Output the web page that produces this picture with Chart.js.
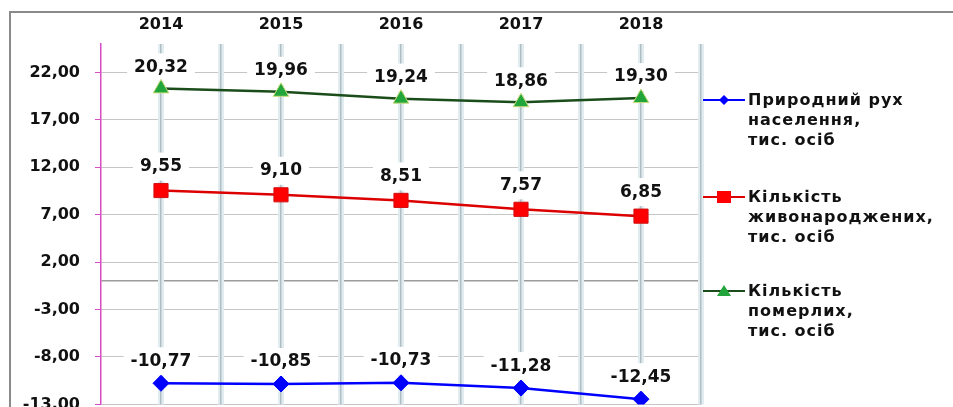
<!DOCTYPE html>
<html>
<head>
<meta charset="utf-8">
<script src="https://cdn.jsdelivr.net/npm/chart.js@4"></script>
<style>
  html, body { margin: 0; padding: 0; background: #fff; overflow: hidden; }
  #wrap { position: relative; width: 953px; height: 407px; overflow: hidden; }
  #frame { position: absolute; left: 9px; top: 11px; width: 1000px; height: 500px;
           border-left: 2px solid #8a8a8a; border-top: 2px solid #8a8a8a; }
  canvas { position: absolute; left: 0; top: 0; }
  #legend { position: absolute; left: 703px; top: 0; font: bold 16px "DejaVu Sans"; color: #111; letter-spacing: 1px; }
  .item { position: absolute; left: 0; display: flex; align-items: flex-start; }
  .item svg { flex: none; margin-right: 3px; }
  .item div { line-height: 20px; white-space: nowrap; }
</style>
</head>
<body>
<div id="wrap">
  <div id="frame"></div>
  <canvas id="chart" width="953" height="429"></canvas>
  <div id="legend"></div>
</div>
<script>
// Chart data
const years = ["2014", "2015", "2016", "2017", "2018"];
const naturalChange = [-10.77, -10.85, -10.73, -11.28, -12.45];
const births = [9.55, 9.10, 8.51, 7.57, 6.85];
const deaths = [20.32, 19.96, 19.24, 18.86, 19.30];
const yTicks = [-13, -8, -3, 2, 7, 12, 17, 22];
const axisCrossing = 0;
const seriesNames = [
    ["Природний рух", "населення,", "тис. осіб"],
    ["Кількість", "живонароджених,", "тис. осіб"],
    ["Кількість", "померлих,", "тис. осіб"]
];

const FONT = '"DejaVu Sans"';
const MAGENTA = "#d64cc4";

// 22,00 style numbers
function fmt(v) {
    return v.toFixed(2).replace(".", ",");
}

// White boxes behind the value labels, then the text on top
const valueLabels = {
    id: "valueLabels",
    beforeDatasetsDraw(chart) {
        const ctx = chart.ctx;
        ctx.save();
        ctx.font = "bold 17px " + FONT;
        ctx.fillStyle = "#fff";
        chart.data.datasets.forEach((ds, i) => {
            chart.getDatasetMeta(i).data.forEach((pt, j) => {
                const w = ctx.measureText(fmt(ds.data[j])).width + 14;
                const y = pt.y - ds.labelOffset;
                ctx.fillRect(pt.x - w / 2, y - 14, w, 28);
            });
        });
        ctx.restore();
    },
    afterDatasetsDraw(chart) {
        const ctx = chart.ctx;
        ctx.save();
        ctx.font = "bold 17px " + FONT;
        ctx.fillStyle = "#111";
        ctx.textAlign = "center";
        ctx.textBaseline = "middle";
        chart.data.datasets.forEach((ds, i) => {
            chart.getDatasetMeta(i).data.forEach((pt, j) => {
                ctx.fillText(fmt(ds.data[j]), pt.x, pt.y - ds.labelOffset);
            });
        });
        ctx.restore();
    }
};

// Extra category axes only used for the glowing vertical lines
function gridAxis(between, color, width, z) {
    return {
        type: "category",
        position: "top",
        offset: true,
        ticks: { display: false },
        border: { display: false },
        grid: {
            offset: between,
            drawTicks: false,
            lineWidth: width,
            z: z,
            color: c => (between && c.index === 0) ? "transparent" : color
        }
    };
}

const GLOW = "#e0ecf0";
const CORE = "#b0bec4";

const labelAxis = gridAxis(false, GLOW, 6, -3);
labelAxis.ticks = { display: true, padding: 10, color: "#111", font: { family: FONT, size: 16, weight: "bold" } };
labelAxis.afterFit = s => { s.height = 32; };

new Chart(document.getElementById("chart").getContext("2d"), {
    type: "line",
    data: {
        labels: years,
        datasets: [
            {
                label: seriesNames[0].join(" "),
                data: naturalChange,
                borderColor: "#0000ff",
                borderWidth: 2.5,
                pointStyle: "rectRot",
                pointRadius: 8,
                pointBackgroundColor: "#0000ff",
                pointBorderColor: "#0000ff",
                pointBorderWidth: 1,
                labelOffset: 22
            },
            {
                label: seriesNames[1].join(" "),
                data: births,
                borderColor: "#dd0000",
                borderWidth: 2.5,
                pointStyle: "rect",
                pointRadius: 10,
                pointBackgroundColor: "#ff0000",
                pointBorderColor: "#d01010",
                pointBorderWidth: 1,
                labelOffset: 24
            },
            {
                label: seriesNames[2].join(" "),
                data: deaths,
                borderColor: "#1b4d1b",
                borderWidth: 2.5,
                pointStyle: "triangle",
                pointRadius: 9,
                pointBackgroundColor: "#22a63c",
                pointBorderColor: "#c9dc78",
                pointBorderWidth: 1,
                labelOffset: 21
            }
        ]
    },
    options: {
        responsive: false,
        animation: false,
        devicePixelRatio: 1,
        layout: { autoPadding: false, padding: { left: 10, top: 12, right: 252, bottom: 11 } },
        plugins: { legend: { display: false }, tooltip: { enabled: false } },
        elements: { line: { tension: 0 } },
        scales: {
            x: labelAxis,
            xc: gridAxis(false, CORE, 1.5, -2),
            xb: gridAxis(true, GLOW, 6, -3),
            xbd: gridAxis(true, CORE, 1.5, -2),
            y: {
                min: -13,
                max: 25,
                afterBuildTicks: s => {
                    s.ticks = yTicks.concat([axisCrossing]).sort((a, b) => a - b).map(v => ({ value: v }));
                },
                afterFit: s => { s.width = 91; },
                border: { color: MAGENTA, width: 1.5 },
                grid: {
                    z: -4,
                    tickLength: 6,
                    color: c => c.tick && c.tick.value === axisCrossing ? "#9c9c9c" : "#c6c6c6",
                    lineWidth: c => c.tick && c.tick.value === axisCrossing ? 1.5 : 1,
                    tickColor: c => c.tick && c.tick.value === axisCrossing ? "transparent" : MAGENTA
                },
                ticks: {
                    padding: 15,
                    color: "#111",
                    font: { family: FONT, size: 16, weight: "bold" },
                    callback: v => v === axisCrossing ? "" : fmt(v)
                }
            }
        }
    },
    plugins: [valueLabels]
});

// Legend on the right, drawn as HTML
const legendMarkers = [
    '<line x1="0" y1="10" x2="42" y2="10" stroke="#0000ff" stroke-width="2"/><polygon points="21,5 26,10 21,15 16,10" fill="#0000ff"/>',
    '<line x1="0" y1="10" x2="42" y2="10" stroke="#dd0000" stroke-width="2"/><rect x="14" y="4" width="14" height="12" fill="#ff0000"/>',
    '<line x1="0" y1="10" x2="42" y2="10" stroke="#1b4d1b" stroke-width="2"/><polygon points="21,4 28,15 14,15" fill="#22a63c"/>'
];
const legendTops = [90, 187, 281];
const legend = document.getElementById("legend");
seriesNames.forEach((lines, i) => {
    const item = document.createElement("div");
    item.className = "item";
    item.style.top = legendTops[i] + "px";
    item.innerHTML = '<svg width="42" height="20">' + legendMarkers[i] + '</svg><div>' + lines.join("<br>") + '</div>';
    legend.appendChild(item);
});
</script>
</body>
</html>
